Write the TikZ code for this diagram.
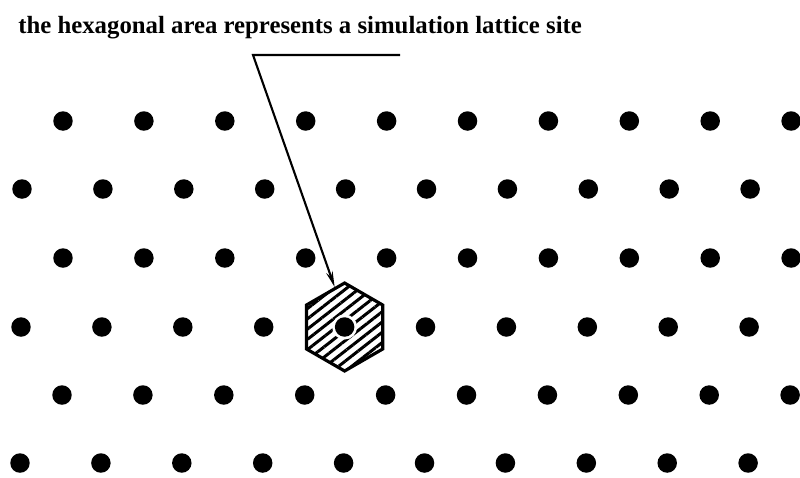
\documentclass[tikz,border=0pt]{standalone}
\usepackage{fontspec}
\setmainfont{Liberation Serif}
\usetikzlibrary{shapes.geometric, arrows.meta, patterns.meta}

\begin{document}
\begin{tikzpicture}[
  x=0.02cm, y=-0.02cm,
  every node/.style={font=\bfseries\fontsize{14.1}{17}\selectfont},
  atom/.style={circle, fill=black, inner sep=0pt, minimum size=0.39cm},
  halo/.style={circle, fill=white, inner sep=0pt, minimum size=0.5cm},
  cell/.style={regular polygon, regular polygon sides=6, shape border rotate=30, draw=black, line width=1.8pt, inner sep=0pt, minimum size=1.76cm, pattern={Lines[angle=38, distance=4.6pt, line width=1.7pt]}, pattern color=black},
  arrow/.style={-{Stealth[length=9pt, width=3.8pt]}, line width=1.2pt}
]
\useasboundingbox (0,0) rectangle (800,477);

% Caption
\node[anchor=base west, inner sep=0pt] (caption) at (18,33) {the hexagonal area represents a simulation lattice site};

% Triangular lattice of sites
\foreach \r/\y/\x in {1/121/63, 2/189/22, 3/258/63, 4/327/21, 5/395/62, 6/463/20}
  \foreach \c in {0,...,9}
    \node[atom] (d-\r-\c) at ({\x+80.9*\c},\y) {};

% Hexagonal cell round one site
\node[cell] (hex) at (d-4-4) {};
\node[halo] (gap) at (hex) {};
\node[atom] (core) at (hex) {};

% Pointer from the caption
\coordinate (tail) at (400,55);
\coordinate (bend) at (253,55);
\draw[arrow] (tail) -- (bend) -- (hex.104);

\end{tikzpicture}
\end{document}
